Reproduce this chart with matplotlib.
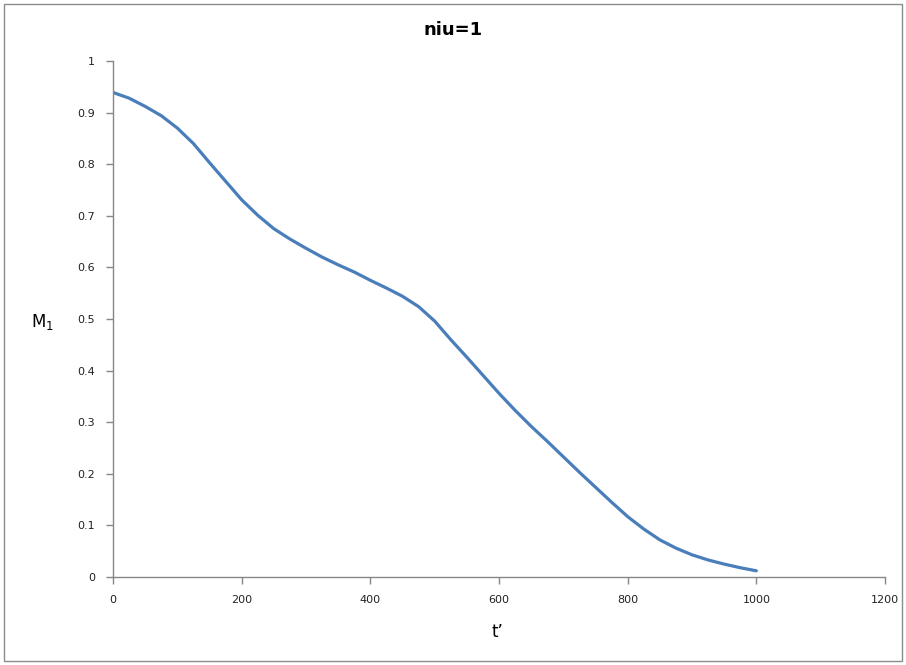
import matplotlib
matplotlib.use("Agg")
import matplotlib.pyplot as plt
from matplotlib.patches import Rectangle

t_values = [0, 25, 50, 75, 100, 125, 150, 175, 200, 225, 250, 275, 300, 325, 350, 375, 400,
            425, 450, 475, 500, 525, 550, 575, 600, 625, 650, 675, 700, 725, 750, 775, 800,
            825, 850, 875, 900, 925, 950, 975, 1000]
m1_values = [0.939, 0.928, 0.912, 0.894, 0.870, 0.840, 0.803, 0.767, 0.731, 0.701, 0.675,
             0.655, 0.637, 0.620, 0.605, 0.591, 0.575, 0.560, 0.544, 0.524, 0.496, 0.460,
             0.426, 0.391, 0.356, 0.323, 0.292, 0.263, 0.233, 0.203, 0.174, 0.145, 0.117,
             0.093, 0.072, 0.056, 0.043, 0.033, 0.025, 0.018, 0.012]
x_ticks = [0, 200, 400, 600, 800, 1000, 1200]
y_ticks = [0, 0.1, 0.2, 0.3, 0.4, 0.5, 0.6, 0.7, 0.8, 0.9, 1]
y_ticklabels = ["0", "0.1", "0.2", "0.3", "0.4", "0.5", "0.6", "0.7", "0.8", "0.9", "1"]

W, H = 906, 665
fig = plt.figure(figsize=(W / 100, H / 100), dpi=100)
fig.patch.set_facecolor("white")
fig.patches.append(Rectangle((4 / W, 1 - 661 / H), 898 / W, 657 / H,
                             transform=fig.transFigure, fill=False,
                             edgecolor="#8c8c8c", linewidth=1.0))

ax = fig.add_axes([113 / W, 1 - 577 / H, (885 - 113) / W, (577 - 61) / H])
ax.plot(t_values, m1_values, color="#4a7ebb", linewidth=2.3,
        solid_capstyle="round", solid_joinstyle="round")

ax.set_xlim(0, 1200)
ax.set_ylim(0, 1)
ax.set_xticks(x_ticks)
ax.set_xticklabels([str(v) for v in x_ticks])
ax.set_yticks(y_ticks)
ax.set_yticklabels(y_ticklabels)

for s in ["top", "right"]:
    ax.spines[s].set_visible(False)
for s in ["left", "bottom"]:
    ax.spines[s].set_color("#868686")
    ax.spines[s].set_linewidth(1.0)
ax.tick_params(axis="both", direction="out", length=5, width=1.0, color="#868686",
               labelsize=8, labelcolor="#222222")
ax.tick_params(axis="x", pad=8)
ax.tick_params(axis="y", pad=8)

fig.text(0.5, 1 - 30 / H, "niu=1", ha="center", va="center",
         fontsize=13, fontweight="bold", color="black")
fig.text(42 / W, 1 - 322 / H, r"M$_1$", ha="center", va="center",
         fontsize=12, color="black")
fig.text(497 / W, 1 - 632 / H, "t\u2019", ha="center", va="center",
         fontsize=12, color="black")

fig.savefig("out.png", dpi=100)
